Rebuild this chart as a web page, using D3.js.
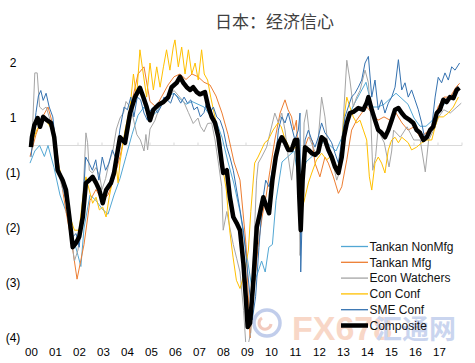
<!DOCTYPE html>
<html><head><meta charset="utf-8">
<script src="https://cdn.jsdelivr.net/npm/d3@7"></script>
<style>body{margin:0;background:#fff}svg{display:block}</style>
</head><body><div id="c"></div>
<script>
const title = "日本：经济信心";
const yearLabels = ["00","01","02","03","04","05","06","07","08","09","10","11","12","13","14","15","16","17"];
const yLabelValues = [2,1,-1,-2,-3,-4];
const seriesNames = ["Tankan NonMfg","Tankan Mfg","Econ Watchers","Con Conf","SME Conf","Composite"];
const seriesColors = ["#52a7d4","#ed7d31","#a5a5a5","#ffc000","#3572b0","#000000"];

// [years since 2000, value]
const tankanNonMfg = [[0.0,-0.32],[0.2,-0.1],[0.4,0.0],[0.6,-0.2],[0.75,0.0],[1.0,-0.4],[1.25,-0.9],[1.5,-1.2],[1.75,-1.6],[2.0,-2.0],[2.12,-2.2],[2.25,-1.5],[2.5,-0.9],[2.75,-1.0],[3.0,-1.15],[3.25,-1.25],[3.5,-0.9],[3.75,-0.6],[4.0,-0.2],[4.25,0.2],[4.5,0.55],[4.75,0.7],[5.0,0.5],[5.25,0.6],[5.5,0.75],[5.75,0.9],[6.0,0.95],[6.25,0.85],[6.5,0.75],[6.75,0.8],[7.0,0.75],[7.25,0.7],[7.5,0.55],[7.75,0.45],[8.0,0.15],[8.25,-0.3],[8.5,-0.7],[8.75,-1.2],[9.0,-1.9],[9.25,-2.6],[9.5,-2.3],[9.65,-2.1],[9.8,-2.3],[9.95,-1.85],[10.1,-1.8],[10.25,-1.0],[10.5,-0.3],[10.75,-0.2],[11.0,-0.1],[11.25,-0.8],[11.5,-0.3],[11.75,-0.2],[12.0,-0.1],[12.25,0.1],[12.5,0.0],[12.75,-0.1],[13.0,0.15],[13.25,0.5],[13.5,0.75],[13.75,0.95],[14.0,1.15],[14.25,0.7],[14.5,0.7],[14.75,0.75],[15.0,0.85],[15.25,0.95],[15.5,0.85],[15.75,0.75],[16.0,0.5],[16.25,0.35],[16.5,0.35],[16.75,0.45],[17.0,0.6],[17.25,0.75],[17.5,0.85],[17.75,0.95]];

const tankanMfg = [[0.0,-0.2],[0.25,0.2],[0.5,0.5],[0.75,0.7],[1.0,0.3],[1.25,-0.5],[1.5,-1.2],[1.75,-1.8],[1.96,-2.43],[2.25,-1.8],[2.5,-1.0],[2.75,-0.8],[3.0,-1.0],[3.25,-0.9],[3.5,-0.6],[3.75,-0.2],[4.0,0.3],[4.25,0.8],[4.5,1.3],[4.75,1.43],[5.0,0.8],[5.25,0.7],[5.5,0.9],[5.75,1.1],[6.0,1.25],[6.25,1.3],[6.5,1.2],[6.75,1.3],[7.0,1.25],[7.25,1.15],[7.5,1.1],[7.75,0.9],[8.0,0.59],[8.25,0.2],[8.5,-0.3],[8.75,-0.63],[9.0,-1.8],[9.17,-3.5],[9.3,-2.75],[9.5,-1.85],[9.67,-1.3],[9.83,-0.94],[10.0,-0.45],[10.2,0.1],[10.42,0.59],[10.625,0.83],[10.75,0.65],[10.9,0.52],[11.0,0.28],[11.1,0.46],[11.25,-0.94],[11.45,-0.03],[11.6,0.15],[11.75,0.1],[11.875,-0.32],[12.08,-0.57],[12.29,-0.21],[12.43,-0.32],[12.64,-0.57],[12.85,-0.87],[12.99,-0.75],[13.2,-0.26],[13.4,0.28],[13.61,0.46],[13.82,0.59],[14.03,0.7],[14.25,0.59],[14.5,0.46],[14.75,0.52],[15.0,0.46],[15.25,0.59],[15.5,0.41],[15.75,0.28],[16.0,0.34],[16.25,0.15],[16.5,0.23],[16.75,0.34],[17.0,0.7],[17.25,0.88],[17.5,0.88],[17.75,1.06],[17.9,1.13]];

const econWatchers = [[0.04,0.1],[0.1,0.25],[0.2,1.32],[0.3,1.32],[0.4,0.7],[0.53,0.65],[0.67,0.7],[0.8,0.52],[0.95,0.3],[1.1,-0.3],[1.3,-0.7],[1.5,-1.0],[1.7,-1.6],[1.85,-2.1],[2.0,-1.9],[2.2,-1.0],[2.33,0.23],[2.4,0.05],[2.47,-0.45],[2.6,-0.5],[2.75,-0.4],[2.9,-0.55],[3.0,-0.8],[3.15,-0.6],[3.3,-0.3],[3.45,-0.1],[3.6,0.3],[3.75,0.5],[3.9,0.6],[4.0,0.8],[4.17,0.7],[4.3,0.5],[4.45,0.2],[4.6,0.1],[4.75,-0.1],[4.83,0.2],[4.9,-0.08],[5.0,0.3],[5.2,0.45],[5.4,0.7],[5.6,0.85],[5.8,0.9],[6.0,1.0],[6.2,0.9],[6.4,0.8],[6.6,0.6],[6.8,0.4],[7.0,0.5],[7.1,0.35],[7.25,0.25],[7.4,0.4],[7.57,0.41],[7.71,0.1],[7.85,-0.32],[7.99,-0.75],[8.05,-1.54],[8.2,-1.2],[8.33,-1.5],[8.47,-1.8],[8.61,-2.05],[8.75,-2.3],[8.9,-3.0],[8.99,-3.6],[9.1,-3.6],[9.2,-3.4],[9.3,-2.14],[9.44,-0.63],[9.51,-0.32],[9.65,-0.21],[9.86,-0.03],[10.2,0.59],[10.35,0.41],[10.49,0.59],[10.625,0.28],[10.76,-0.21],[10.9,-0.63],[11.04,-0.14],[11.18,0.15],[11.25,-2.0],[11.35,-1.0],[11.42,0.41],[11.53,0.65],[11.67,0.1],[11.8,-0.03],[11.95,-0.21],[12.15,0.88],[12.29,0.52],[12.43,-0.08],[12.57,-0.21],[12.78,-0.63],[12.92,-0.45],[13.06,0.52],[13.2,1.55],[13.33,1.19],[13.47,0.7],[13.61,0.88],[13.75,1.0],[13.96,1.37],[14.1,1.14],[14.2,0.5],[14.28,-0.45],[14.4,-0.2],[14.5,0.28],[14.76,0.05],[14.96,-0.39],[15.07,-0.1],[15.15,0.28],[15.43,0.15],[15.71,0.34],[15.99,0.1],[16.26,0.1],[16.47,-0.48],[16.61,0.1],[16.82,0.28],[17.03,0.52],[17.24,0.65],[17.51,0.59],[17.79,0.7],[17.97,0.77]];

const conConf = [[0.04,0.0],[0.3,0.3],[0.6,0.5],[0.9,0.3],[1.15,-0.3],[1.4,-0.7],[1.6,-1.2],[1.78,-1.45],[1.85,-1.54],[2.05,-1.54],[2.2,-0.94],[2.33,-0.57],[2.47,-0.81],[2.61,-1.05],[2.75,-0.94],[2.89,-1.17],[3.03,-1.12],[3.17,-1.3],[3.3,-0.94],[3.44,-0.63],[3.58,-0.32],[3.67,-0.68],[3.75,-0.3],[3.96,0.28],[4.17,0.7],[4.31,1.3],[4.44,0.88],[4.58,1.74],[4.72,1.3],[4.86,0.88],[5.0,1.5],[5.14,1.01],[5.28,1.43],[5.42,1.06],[5.56,1.43],[5.69,1.74],[5.83,1.37],[5.97,1.79],[6.04,1.92],[6.18,1.43],[6.32,1.79],[6.46,1.3],[6.6,1.74],[6.74,1.3],[6.88,1.5],[7.01,1.19],[7.15,1.74],[7.26,1.3],[7.4,1.19],[7.53,0.88],[7.67,0.59],[7.82,0.28],[8.0,-0.32],[8.18,-0.81],[8.32,-1.54],[8.46,-2.03],[8.6,-2.45],[8.75,-2.6],[8.95,-2.3],[9.1,-1.9],[9.2,-1.2],[9.36,-0.32],[9.5,-0.21],[9.64,-0.08],[9.78,0.05],[9.92,0.1],[10.13,0.28],[10.33,0.41],[10.47,0.34],[10.6,0.15],[10.85,-0.08],[11.1,-0.03],[11.22,-0.2],[11.3,-1.23],[11.46,-0.94],[11.6,-0.68],[11.74,-0.5],[11.94,-0.26],[12.15,-0.14],[12.36,-0.26],[12.5,-0.21],[12.71,-0.45],[12.92,-0.32],[13.06,0.41],[13.2,0.88],[13.33,0.7],[13.47,0.52],[13.61,0.41],[13.75,0.46],[13.89,0.28],[14.03,0.1],[14.14,-0.57],[14.24,-0.81],[14.375,-0.32],[14.51,-0.21],[14.65,-0.32],[14.79,-0.5],[14.93,-0.08],[15.07,0.1],[15.21,0.15],[15.35,0.05],[15.49,0.15],[15.625,0.1],[15.76,0.05],[15.9,-0.08],[16.11,-0.03],[16.32,0.05],[16.53,0.1],[16.74,0.1],[16.88,0.34],[17.01,0.52],[17.22,0.52],[17.43,0.59],[17.64,0.7],[17.85,0.88]];

const smeConf = [[0.04,-0.21],[0.12,0.1],[0.25,0.6],[0.35,0.9],[0.45,1.0],[0.55,0.82],[0.67,0.95],[0.8,0.7],[0.95,0.52],[1.1,-0.1],[1.22,-0.45],[1.4,-0.8],[1.55,-1.1],[1.7,-1.4],[1.78,-1.66],[1.92,-1.6],[2.05,-1.85],[2.2,-1.1],[2.32,-0.21],[2.46,-0.32],[2.6,-0.45],[2.74,-0.26],[2.87,-0.63],[3.01,-0.21],[3.15,-0.45],[3.29,-0.32],[3.43,-0.08],[3.6,-0.26],[3.74,0.28],[3.92,0.7],[4.06,0.65],[4.2,0.88],[4.33,0.52],[4.47,0.88],[4.61,0.83],[4.75,0.59],[4.89,0.46],[5.03,0.65],[5.17,0.7],[5.31,0.59],[5.45,0.7],[5.58,0.88],[5.72,0.83],[5.86,0.77],[6.0,0.95],[6.14,0.88],[6.28,0.77],[6.42,0.88],[6.56,0.77],[6.7,0.83],[6.83,0.65],[6.97,0.7],[7.1,0.52],[7.25,0.6],[7.35,0.77],[7.5,0.59],[7.64,0.7],[7.78,0.52],[7.92,0.46],[8.06,0.28],[8.2,-0.03],[8.33,-0.21],[8.47,-0.45],[8.61,-0.81],[8.75,-1.17],[8.89,-1.54],[9.03,-2.14],[9.17,-2.75],[9.26,-3.17],[9.4,-2.75],[9.54,-1.85],[9.68,-1.05],[9.82,-0.63],[9.96,-0.75],[10.1,-0.45],[10.24,-0.21],[10.35,0.28],[10.49,0.52],[10.625,0.41],[10.76,0.59],[10.9,0.34],[11.04,0.1],[11.18,0.28],[11.25,0.59],[11.28,-2.3],[11.38,-0.63],[11.46,0.1],[11.6,0.28],[11.74,0.1],[11.875,-0.03],[12.01,0.15],[12.15,0.41],[12.29,0.23],[12.43,0.15],[12.57,0.05],[12.71,-0.14],[12.85,-0.32],[12.99,0.1],[13.125,0.52],[13.26,0.7],[13.4,0.88],[13.54,0.95],[13.68,1.06],[13.82,1.19],[13.96,1.5],[14.1,1.62],[14.24,0.88],[14.375,1.19],[14.51,0.65],[14.65,0.83],[14.79,0.59],[14.93,0.77],[15.07,0.88],[15.21,1.06],[15.35,1.56],[15.49,1.01],[15.625,1.14],[15.76,0.88],[15.9,1.01],[16.04,0.83],[16.18,0.65],[16.32,0.41],[16.46,0.1],[16.6,0.23],[16.74,0.34],[16.88,0.88],[17.01,1.24],[17.15,1.14],[17.29,1.32],[17.43,1.19],[17.57,1.43],[17.71,1.37],[17.9,1.5]];

const composite = [[0.04,-0.03],[0.08,0.15],[0.18,0.37],[0.32,0.5],[0.42,0.34],[0.55,0.52],[0.7,0.46],[0.875,0.41],[1.01,0.15],[1.15,-0.45],[1.36,-0.63],[1.5,-0.81],[1.64,-1.3],[1.78,-1.85],[1.92,-1.77],[2.05,-1.66],[2.2,-1.3],[2.33,-0.68],[2.47,-0.63],[2.61,-0.57],[2.75,-0.68],[2.89,-0.81],[3.03,-1.05],[3.17,-0.81],[3.375,-0.68],[3.5,-0.5],[3.61,-0.21],[3.75,0.15],[3.96,0.05],[4.17,0.59],[4.375,0.88],[4.58,1.05],[4.72,0.88],[4.86,0.7],[5.0,0.46],[5.14,0.65],[5.35,0.74],[5.56,0.79],[5.76,0.88],[5.9,1.06],[6.11,1.14],[6.25,1.25],[6.39,1.14],[6.53,1.06],[6.67,1.01],[6.8,1.06],[6.95,0.97],[7.08,0.93],[7.29,0.97],[7.43,0.7],[7.57,0.52],[7.71,0.41],[7.85,0.15],[7.99,-0.32],[8.05,-0.5],[8.2,-0.45],[8.33,-0.94],[8.47,-1.3],[8.61,-1.41],[8.75,-1.54],[8.89,-2.14],[8.99,-2.75],[9.07,-3.3],[9.17,-3.23],[9.3,-2.5],[9.45,-1.48],[9.58,-1.23],[9.72,-0.94],[9.86,-1.12],[9.96,-1.23],[10.1,-0.63],[10.24,-0.21],[10.375,0.05],[10.49,0.15],[10.625,0.05],[10.76,-0.08],[10.9,-0.08],[11.04,0.1],[11.14,0.1],[11.22,-0.94],[11.28,-1.54],[11.36,-0.63],[11.46,-0.03],[11.6,-0.08],[11.74,-0.14],[11.875,-0.17],[12.01,-0.12],[12.15,0.15],[12.29,0.1],[12.43,-0.08],[12.57,-0.21],[12.71,-0.39],[12.85,-0.5],[12.99,-0.21],[13.08,0.15],[13.2,0.41],[13.33,0.59],[13.47,0.61],[13.68,0.68],[13.89,0.65],[14.03,0.78],[14.1,0.88],[14.24,0.65],[14.375,0.46],[14.51,0.28],[14.65,0.23],[14.79,0.15],[14.93,0.28],[15.07,0.46],[15.21,0.65],[15.35,0.68],[15.49,0.59],[15.625,0.52],[15.83,0.46],[15.97,0.41],[16.11,0.28],[16.25,0.23],[16.39,0.1],[16.53,0.15],[16.67,0.28],[16.8,0.34],[16.95,0.59],[17.08,0.65],[17.22,0.83],[17.36,0.79],[17.5,0.88],[17.64,0.86],[17.78,1.01],[17.89,1.05]];

const allSeries = [tankanNonMfg, tankanMfg, econWatchers, conConf, smeConf, composite];

const W = 475, H = 363;
const svg = d3.select("#c").append("svg").attr("width", W).attr("height", H)
  .style("font-family", "'Liberation Sans', Arial, sans-serif");

const x = d3.scaleLinear().domain([0, 18]).range([30, 462]);
const y = d3.scaleLinear().domain([-4, 2]).range([365.5, 35.5]);

// title
svg.append("text").attr("x", 274.5).attr("y", 28).attr("text-anchor", "middle")
  .style("font-family", "'Noto Sans CJK SC', sans-serif").style("font-size", "17px")
  .attr("fill", "#404040").text(title);

// watermark
const wm = svg.append("g").attr("opacity", 0.55);
wm.append("circle").attr("cx", 267).attr("cy", 323).attr("r", 13).attr("fill", "none").attr("stroke", "#8fa6dc").attr("stroke-width", 3.5);
wm.append("path").attr("d", "M262,318 a6,6 0 1,0 9,6").attr("fill", "none").attr("stroke", "#e8a08a").attr("stroke-width", 3);
wm.append("text").attr("x", 292).attr("y", 340).style("font-size", "34px").style("font-weight", "bold")
  .attr("fill", "#f4b79a").text("FX678");
wm.append("text").attr("x", 375).attr("y", 339).style("font-size", "27px").style("font-weight", "bold")
  .style("font-family", "'Noto Sans CJK SC', sans-serif").attr("fill", "#9fb4e2").text("汇通网");

// zero line with small year ticks
svg.append("line").attr("x1", x(0)).attr("x2", x(18)).attr("y1", y(0)).attr("y2", y(0))
  .attr("stroke", "#d9d9d9").attr("stroke-width", 1);
svg.append("g").selectAll("line").data(d3.range(0, 19)).join("line")
  .attr("x1", d => x(d)).attr("x2", d => x(d)).attr("y1", y(0) - 3).attr("y2", y(0))
  .attr("stroke", "#d9d9d9");

// y labels (placed between gridline levels as in the original)
const fmt = v => v < 0 ? "(" + (-v) + ")" : String(v);
svg.append("g").selectAll("text").data(yLabelValues).join("text")
  .attr("x", 13).attr("y", v => y(v > 0 ? v - 0.5 : v + 0.5)).attr("dy", "0.35em")
  .attr("text-anchor", "middle").style("font-size", "12px").attr("fill", "#000").text(fmt);

// x labels
svg.append("g").selectAll("text").data(yearLabels).join("text")
  .attr("x", (d, i) => x(i) + 1.5).attr("y", 356).attr("text-anchor", "middle")
  .style("font-size", "11.5px").attr("fill", "#000").text(d => d);

// clip
svg.append("clipPath").attr("id", "clip").append("rect")
  .attr("x", 28).attr("y", 30).attr("width", 440).attr("height", 312);

const line = d3.line().x(d => x(d[0])).y(d => y(d[1]));
const g = svg.append("g").attr("clip-path", "url(#clip)");
allSeries.forEach((s, i) => {
  g.append("path").datum(s).attr("d", line).attr("fill", "none")
    .attr("stroke", seriesColors[i]).attr("stroke-width", i === 5 ? 4.5 : 1)
    .attr("stroke-linejoin", "round");
});

// legend
const lg = svg.append("g");
seriesNames.forEach((n, i) => {
  const yy = 246.5 + i * 15.8;
  lg.append("line").attr("x1", 341).attr("x2", 368).attr("y1", yy).attr("y2", yy)
    .attr("stroke", seriesColors[i]).attr("stroke-width", i === 5 ? 4.5 : 1.3);
  lg.append("text").attr("x", 369.5).attr("y", yy).attr("dy", "0.35em")
    .style("font-size", "12px").attr("fill", "#111").text(n);
});
</script></body></html>
